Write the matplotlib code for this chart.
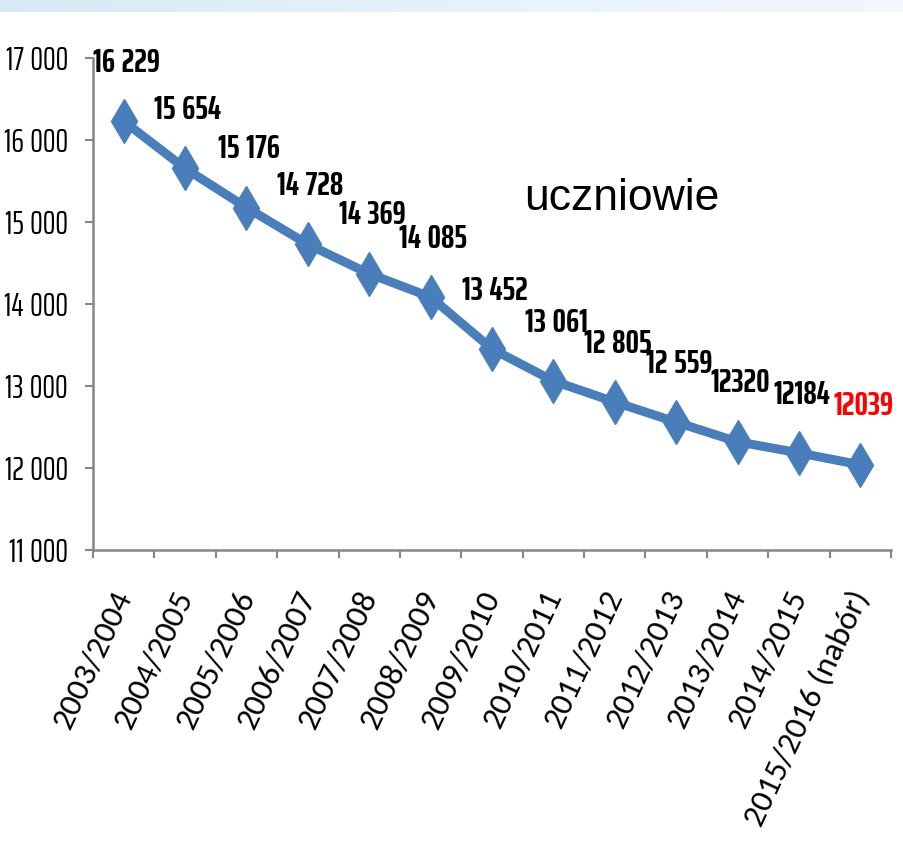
import matplotlib
matplotlib.use("Agg")
import matplotlib.pyplot as plt
import numpy as np
from matplotlib.colors import LinearSegmentedColormap
from matplotlib.ticker import FixedLocator, FuncFormatter

NARROW = ["Saira ExtraCondensed", "Fira Sans Extra Condensed", "Liberation Sans", "DejaVu Sans"]
CALIBRI = ["Carlito", "Liberation Sans", "DejaVu Sans"]
plt.rcParams["font.family"] = NARROW

years = [
    "2003/2004", "2004/2005", "2005/2006", "2006/2007", "2007/2008",
    "2008/2009", "2009/2010", "2010/2011", "2011/2012", "2012/2013",
    "2013/2014", "2014/2015", "2015/2016 (nabór)",
]
students = [16229, 15654, 15176, 14728, 14369, 14085, 13452, 13061,
            12805, 12559, 12320, 12184, 12039]
value_labels = ["16\u2009229", "15\u2009654", "15\u2009176", "14\u2009728", "14\u2009369",
                "14\u2009085", "13\u2009452", "13\u2009061", "12\u2009805", "12\u2009559",
                "12320", "12184", "12039"]
label_colors = ["black"] * 12 + ["red"]
y_ticks = [11000, 12000, 13000, 14000, 15000, 16000, 17000]

fig = plt.figure(figsize=(9.04, 8.65), dpi=100)

# light blue band at the very top of the slide
band = fig.add_axes([0, 1 - 12 / 865, 1, 12 / 865])
grad = np.linspace(0, 1, 256).reshape(1, -1)
band.imshow(grad, aspect="auto",
            cmap=LinearSegmentedColormap.from_list("band", ["#d6eaf5", "#e6f2fa", "#f2f8fd"]))
band.axis("off")

ax = fig.add_axes([93 / 904, (865 - 550) / 865, (891 - 93) / 904, (550 - 58) / 865])
x = np.arange(len(years))
ax.plot(x, students, color="#4a7ebb", linewidth=6.5, marker="d", markersize=22,
        markeredgecolor="#4a7ebb", solid_capstyle="round")

for xi, v, lab, c in zip(x, students, value_labels, label_colors):
    ax.annotate(lab, (xi, v), xytext=(2, 42), textcoords="offset points",
                ha="center", va="center", fontsize=24, fontweight="bold", color=c)

ax.set_xlim(-0.5, len(years) - 0.5)
ax.set_ylim(11000, 17000)
ax.yaxis.set_major_locator(FixedLocator(y_ticks))
ax.yaxis.set_major_formatter(FuncFormatter(lambda v, p: f"{int(v):,}".replace(",", "\u2009")))

ax.xaxis.set_major_locator(FixedLocator(np.arange(-0.5, len(years), 1.0)))
ax.xaxis.set_major_formatter(FuncFormatter(lambda v, p: ""))
ax.xaxis.set_minor_locator(FixedLocator(x))
ax.set_xticklabels(years, minor=True, rotation=65, ha="right", va="center",
                   rotation_mode="anchor", fontsize=24, family=CALIBRI)

for s in ["top", "right"]:
    ax.spines[s].set_visible(False)
for s in ["left", "bottom"]:
    ax.spines[s].set_color("#868686")
    ax.spines[s].set_linewidth(1.8)
ax.tick_params(axis="both", which="major", direction="out", length=6, width=1.5, color="#868686")
ax.tick_params(axis="y", labelsize=23, pad=12)
ax.tick_params(axis="x", which="minor", length=0, pad=30)

fig.text(622 / 904, 1 - 198 / 865, "uczniowie", fontsize=32, ha="center", va="center",
         family=["Liberation Sans", "DejaVu Sans"])

fig.savefig("out.png", dpi=100, facecolor="white")
